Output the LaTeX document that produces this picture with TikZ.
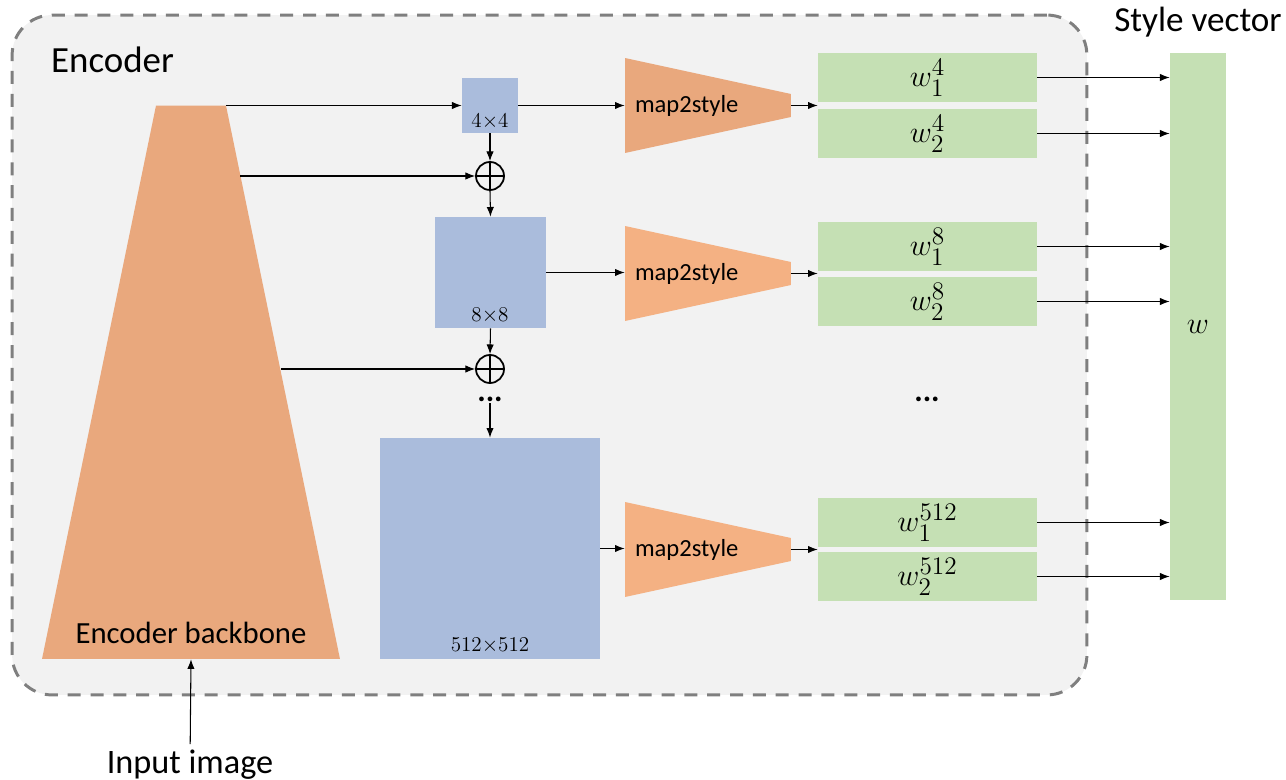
\documentclass[tikz,border=0pt]{standalone}
\usepackage{amsmath}
\usepackage{fontspec}
\setmainfont{Carlito}
\usepackage{tikz}
\usetikzlibrary{positioning, calc, shapes.geometric, arrows.meta}
\DeclareMathSizes{18}{18}{14}{11}
\definecolor{encfill}{HTML}{F2F2F2}
\definecolor{encline}{HTML}{7F7F7F}
\definecolor{bbcolor}{HTML}{E9A87D}
\definecolor{mapcolor}{HTML}{F4B183}
\definecolor{featcolor}{HTML}{AABCDC}
\definecolor{stylecolor}{HTML}{C5E0B4}
\tikzstyle{Arrow} = [
%thin connector with a small filled head
line width=0.6pt,
-{Latex[length=5.5pt, width=4.2pt]}
]

\begin{document}
\begin{tikzpicture}[x=0.02cm, y=-0.02cm,
			encoder/.style = {rectangle, rounded corners=0.8cm, draw=encline, fill=encfill, line width=1.7pt, dash pattern=on 7.4pt off 5.6pt, minimum width=21.5cm, minimum height=13.6cm},
			backbone/.style = {rectangle, inner sep=0pt, minimum width=5.96cm, minimum height=11.07cm, path picture={\fill[bbcolor] (path picture bounding box.south west) -- ([xshift=2.28cm]path picture bounding box.north west) -- ([xshift=-2.28cm]path picture bounding box.north east) -- (path picture bounding box.south east) -- cycle;}},
			feature/.style = {rectangle, fill=featcolor, inner sep=0pt},
			mapping/.style = {rectangle, inner ysep=0pt, inner xsep=0.2cm, text width=2.92cm, align=left, minimum height=1.9cm, font=\fontsize{14}{17}\selectfont, path picture={\fill[#1] (path picture bounding box.north west) -- ([yshift=-0.72cm]path picture bounding box.north east) -- ([yshift=0.72cm]path picture bounding box.south east) -- (path picture bounding box.south west) -- cycle;}},
			wbox/.style = {rectangle, fill=stylecolor, inner sep=0pt, minimum width=4.38cm, minimum height=0.98cm, font=\fontsize{18}{20}\selectfont},
			sumnode/.style = {circle, draw, line width=1pt, minimum size=0.56cm, inner sep=0pt, path picture={\draw[line width=1pt] (path picture bounding box.north) -- (path picture bounding box.south) (path picture bounding box.west) -- (path picture bounding box.east);}},
			size/.style = {font=\fontsize{13}{15}\selectfont, inner sep=0pt},
			dots/.style = {font=\fontsize{18}{20}\selectfont\bfseries, inner sep=1pt},
		]
		\useasboundingbox (0,0) rectangle (1286,780);

		\node[encoder](Enc) at (549.5,355){};
		\node[anchor=west, font=\fontsize{21}{24}\selectfont](EncT) at (45,60){Encoder};

		\node[backbone](BB) at (191,382.25){};
		\node[font=\fontsize{17.5}{20}\selectfont](BBT) at (191,633){Encoder backbone};
		\node[font=\fontsize{19.5}{22}\selectfont](In) at (190,765){Input image};
		\draw[Arrow](In)--(BB.south);

		\coordinate(BBa) at (226,105.5);
		\coordinate(BBb) at (240,176);
		\coordinate(BBc) at (281,369);

		\node[feature, minimum width=1.12cm, minimum height=1.1cm](S4) at (490,105.5){};
		\node[feature, minimum width=2.22cm, minimum height=2.22cm](S8) at (490.5,272.5){};
		\node[feature, minimum width=4.4cm, minimum height=4.42cm](S512) at (490,548.5){};
		\node[size](L4) at (490,122){$4{\times}4$};
		\node[size](L8) at (490,316){$8{\times}8$};
		\node[size](L512) at (490,646){$512{\times}512$};

		\node[sumnode](P1) at (490,176){};
		\node[sumnode](P2) at (490,369){};
		\node[dots](D1) at (490,399){...};

		\draw[Arrow](BBa)--(S4.west);
		\draw[Arrow](BBb)--(P1.west);
		\draw[Arrow](BBc)--(P2.west);
		\draw[Arrow](S4.south)--(P1.north);
		\draw[Arrow](P1.south)--(S8.north);
		\draw[Arrow](S8.south)--(P2.north);
		\draw[Arrow](D1.south)--(S512.north);

		\node[mapping=bbcolor](M1) at (708,105.5){map2style};
		\node[mapping=mapcolor](M2) at (708,273.5){map2style};
		\node[mapping=mapcolor](M3) at (708,549.5){map2style};

		\draw[Arrow](S4.east)--(M1.west);
		\draw[Arrow](S8.east)--(M2.west |- S8.east);
		\draw[Arrow](S512.east)--(M3.west |- S512.east);

		\node[wbox](G41) at (927.5,77.5){$w_1^4$};
		\node[wbox](G42) at (927.5,133.5){$w_2^4$};
		\node[wbox](G81) at (927.5,246.5){$w_1^8$};
		\node[wbox](G82) at (927.5,301.5){$w_2^8$};
		\node[wbox](G5121) at (927.5,522.5){$w_1^{512}$};
		\node[wbox](G5122) at (927.5,576.5){$w_2^{512}$};
		\node[dots](D2) at (927,399){...};

		\draw[Arrow](M1.east)--(M1.east -| G41.west);
		\draw[Arrow](M2.east)--(M2.east -| G81.west);
		\draw[Arrow](M3.east)--(M3.east -| G5121.west);

		\node[rectangle, fill=stylecolor, inner sep=0pt, minimum width=1.12cm, minimum height=10.94cm, font=\fontsize{18}{20}\selectfont](W) at (1198,326.5){$w$};
		\node[font=\fontsize{20}{24}\selectfont](WT) at (1198,22){Style vector};

		\draw[Arrow](G41.east)--(G41.east -| W.west);
		\draw[Arrow](G42.east)--(G42.east -| W.west);
		\draw[Arrow](G81.east)--(G81.east -| W.west);
		\draw[Arrow](G82.east)--(G82.east -| W.west);
		\draw[Arrow](G5121.east)--(G5121.east -| W.west);
		\draw[Arrow](G5122.east)--(G5122.east -| W.west);

	\end{tikzpicture}
\end{document}
